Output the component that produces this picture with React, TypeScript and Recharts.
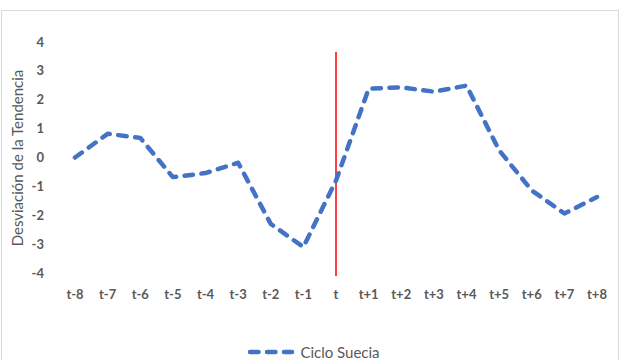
import React from "react";
import { CartesianGrid, Legend, Line, LineChart, ReferenceLine, XAxis, YAxis } from "recharts";

const periods = [
  "t-8", "t-7", "t-6", "t-5", "t-4", "t-3", "t-2", "t-1", "t",
  "t+1", "t+2", "t+3", "t+4", "t+5", "t+6", "t+7", "t+8",
];
const cicloSuecia = [
  0.0, 0.82, 0.68, -0.68, -0.54, -0.18, -2.3, -3.1, -0.8,
  2.38, 2.43, 2.28, 2.49, 0.25, -1.14, -1.94, -1.37,
];
const yTicks = [-4, -3, -2, -1, 0, 1, 2, 3, 4];
const markerPeriod = "t";
const markerRange = [-4.1, 3.65];

const BLUE = "#4472C4";
const TEXT = "#595959";
const FONT = "Lato, 'Open Sans', sans-serif";

const data = periods.map((p, i) => ({ period: p, value: cicloSuecia[i] }));

function YLabel() {
  const cx = 17;
  const cy = 158;
  return (
    <text
      x={cx}
      y={cy}
      transform={`rotate(-90 ${cx} ${cy})`}
      textAnchor="middle"
      dominantBaseline="central"
      fill={TEXT}
      fontSize={15}
      fontFamily={FONT}
    >
      Desviación de la Tendencia
    </text>
  );
}

function LegendContent() {
  return (
    <div style={{ display: "flex", justifyContent: "center", alignItems: "center", fontFamily: FONT }}>
      <svg width={48} height={10} style={{ marginRight: 5 }}>
        <line x1={3} y1={5} x2={45} y2={5} stroke={BLUE} strokeWidth={4.5} strokeDasharray="8.5 8.5" strokeLinecap="round" />
      </svg>
      <span style={{ color: TEXT, fontSize: 15 }}>Ciclo Suecia</span>
    </div>
  );
}

export default function App() {
  return (
    <div style={{ position: "absolute", left: 0, top: 0, width: 627, height: 360, background: "#fff", overflow: "hidden" }}>
      <div
        style={{
          position: "absolute",
          left: 1,
          top: 10,
          width: 616,
          height: 400,
          border: "1.5px solid #d9d9d9",
        }}
      />
      <LineChart
        width={627}
        height={360}
        data={data}
        margin={{ top: 42, right: 14, bottom: 57, left: 0 }}
        style={{ position: "absolute", left: 0, top: 0 }}
      >
        <CartesianGrid horizontal={false} vertical={false} />
        <XAxis
          dataKey="period"
          axisLine={false}
          tickLine={false}
          tickSize={6}
          tickMargin={11}
          height={30}
          interval={0}
          padding={{ left: 16, right: 16 }}
          tick={{ fill: TEXT, fontSize: 13, fontFamily: FONT, fontWeight: 700 }}
        />
        <YAxis
          domain={[-4, 4]}
          ticks={yTicks}
          width={59}
          axisLine={false}
          tickLine={false}
          tickSize={6}
          tickMargin={9}
          interval={0}
          tick={{ fill: TEXT, fontSize: 13, fontFamily: FONT, fontWeight: 700 }}
        />
        <YLabel />
        <ReferenceLine
          segment={[
            { x: markerPeriod, y: markerRange[0] },
            { x: markerPeriod, y: markerRange[1] },
          ]}
          stroke="#FF0000"
          strokeWidth={1.5}
          ifOverflow="visible"
        />
        <Line
          type="linear"
          dataKey="value"
          name="Ciclo Suecia"
          stroke={BLUE}
          strokeWidth={4.5}
          strokeDasharray="8.5 8.5"
          strokeLinecap="round"
          strokeLinejoin="round"
          dot={false}
          activeDot={false}
          isAnimationActive={false}
        />
        <Legend
          layout="horizontal"
          verticalAlign="middle"
          align="center"
          content={<LegendContent />}
          wrapperStyle={{ top: 343, left: 0, width: 627 }}
        />
      </LineChart>
    </div>
  );
}
